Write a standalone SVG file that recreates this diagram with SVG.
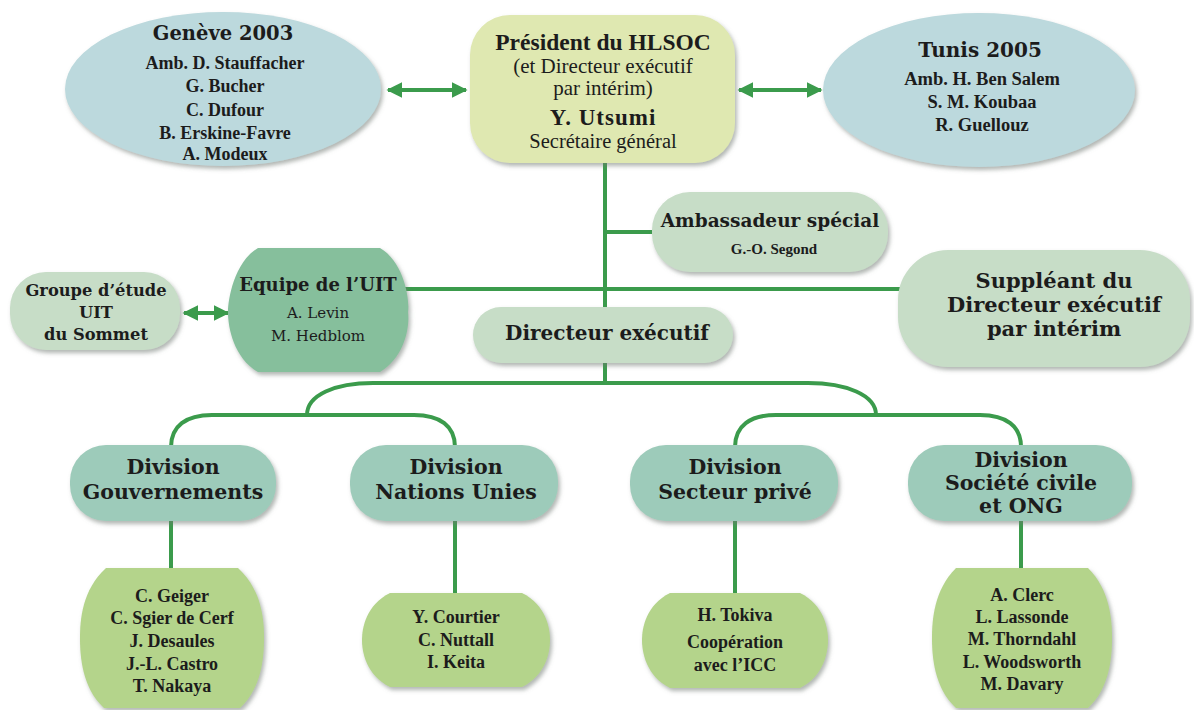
<svg xmlns="http://www.w3.org/2000/svg" width="1194" height="710" viewBox="0 0 1194 710">
  <defs>
    <filter id="shadow" x="-10%" y="-10%" width="125%" height="130%">
      <feDropShadow dx="2" dy="3" stdDeviation="2" flood-color="#6f7a72" flood-opacity="0.55"/>
    </filter>
    <marker id="head" viewBox="0 0 10 10" refX="9" refY="5" markerWidth="4" markerHeight="4" orient="auto-start-reverse" markerUnits="strokeWidth">
      <path d="M0,0 L10,5 L0,10 Z" fill="#3b9b4c"/>
    </marker>
    <style>
      .bg { fill: #ffffff; }
      .link { fill: none; stroke: #3b9b4c; stroke-width: 4; }
      .arrow { fill: none; stroke: #3b9b4c; stroke-width: 4; marker-start: url(#head); marker-end: url(#head); }
      .ell { fill: #bcd9dd; filter: url(#shadow); }
      .pres { fill: #dfe8b1; filter: url(#shadow); }
      .pale { fill: #c7ddc7; filter: url(#shadow); }
      .team { fill: #86bf9c; filter: url(#shadow); }
      .div { fill: #9dcbba; filter: url(#shadow); }
      .names { fill: #b4d48b; filter: url(#shadow); }
      text { fill: #1c1c1c; text-anchor: middle; }
      .slab { font-family: "DejaVu Serif", serif; font-weight: bold; }
      .slabr { font-family: "DejaVu Serif", serif; }
      .serif { font-family: "Liberation Serif", serif; }
      .b { font-weight: bold; }
      .dv { font-size: 20.5px; }
      .nm { font-size: 18px; }
    </style>
  </defs>

  <rect class="bg" x="0" y="0" width="1194" height="710"/>

  <!-- connectors -->
  <g id="connectors">
    <line class="arrow" x1="388" y1="90" x2="466" y2="90"/>
    <line class="arrow" x1="739" y1="90" x2="821" y2="90"/>
    <line class="arrow" x1="184" y1="313" x2="228" y2="313"/>
    <line class="link" x1="605" y1="160" x2="605" y2="309"/>
    <line class="link" x1="605" y1="232" x2="654" y2="232"/>
    <line class="link" x1="398" y1="289" x2="900" y2="289"/>
    <line class="link" x1="605" y1="361" x2="605" y2="383"/>
    <path class="link" d="M307,415 C307,395 335,383 373,383 H808 C846,383 876,395 876,415"/>
    <path class="link" d="M171,447 C171,426 186,415 212,415 H414 C440,415 455,426 455,447"/>
    <path class="link" d="M735,447 C735,426 750,415 776,415 H980 C1006,415 1021,426 1021,447"/>
    <line class="link" x1="171" y1="519" x2="171" y2="570"/>
    <line class="link" x1="455" y1="519" x2="455" y2="595"/>
    <line class="link" x1="735" y1="519" x2="735" y2="595"/>
    <line class="link" x1="1021" y1="519" x2="1021" y2="570"/>
  </g>

  <!-- Genève 2003 -->
  <g id="geneve">
    <ellipse class="ell" cx="223" cy="89" rx="158" ry="77"/>
    <text class="slab" x="223" y="40" font-size="19.5">Genève 2003</text>
    <text class="serif b" x="225" y="69" font-size="18">Amb. D. Stauffacher</text>
    <text class="serif b" x="225" y="92" font-size="18">G. Bucher</text>
    <text class="serif b" x="225" y="116" font-size="18">C. Dufour</text>
    <text class="serif b" x="225" y="139" font-size="18">B. Erskine-Favre</text>
    <text class="serif b" x="225" y="160" font-size="18">A. Modeux</text>
  </g>

  <!-- Président du HLSOC -->
  <g id="president">
    <rect class="pres" x="470" y="15" width="265" height="148" rx="40"/>
    <text class="serif b" x="603" y="50" font-size="23.5">Président du HLSOC</text>
    <text class="serif" x="603" y="73" font-size="21">(et Directeur exécutif</text>
    <text class="serif" x="603" y="95" font-size="21">par intérim)</text>
    <text class="serif b" x="603" y="125" font-size="23" letter-spacing="1">Y. Utsumi</text>
    <text class="serif" x="603" y="148" font-size="20.5">Secrétaire général</text>
  </g>

  <!-- Tunis 2005 -->
  <g id="tunis">
    <ellipse class="ell" cx="979" cy="90" rx="156" ry="77"/>
    <text class="slab" x="980" y="57" font-size="20">Tunis 2005</text>
    <text class="serif b" x="982" y="85" font-size="18.5">Amb. H. Ben Salem</text>
    <text class="serif b" x="982" y="108" font-size="18.5">S. M. Koubaa</text>
    <text class="serif b" x="982" y="131" font-size="18.5">R. Guellouz</text>
  </g>

  <!-- Ambassadeur spécial -->
  <g id="ambassadeur">
    <rect class="pale" x="652" y="192" width="236" height="80" rx="38"/>
    <text class="slab" x="770" y="227" font-size="18.5">Ambassadeur spécial</text>
    <text class="serif b" x="774" y="254" font-size="15">G.-O. Segond</text>
  </g>

  <!-- Groupe d'étude UIT du Sommet -->
  <g id="groupe">
    <rect class="pale" x="10" y="272" width="170" height="78" rx="36"/>
    <text class="slab" x="96" y="296" font-size="16.3">Groupe d’étude</text>
    <text class="slab" x="96" y="318" font-size="16.3">UIT</text>
    <text class="slab" x="96" y="340" font-size="16.3">du Sommet</text>
  </g>

  <!-- Equipe de l'UIT -->
  <g id="equipe">
    <path class="team" d="M258,248 H380 C404,262 410,300 408,312 C410,328 404,358 380,372 H258 C234,358 228,328 228,312 C228,300 234,262 258,248 Z"/>
    <text class="slab" x="318" y="291" font-size="18">Equipe de l’UIT</text>
    <text class="slabr" x="318" y="318" font-size="15">A. Levin</text>
    <text class="slabr" x="318" y="341" font-size="15">M. Hedblom</text>
  </g>

  <!-- Directeur exécutif -->
  <g id="directeur">
    <rect class="pale" x="473" y="307" width="260" height="56" rx="28"/>
    <text class="slab" x="607" y="340" font-size="20">Directeur exécutif</text>
  </g>

  <!-- Suppléant du Directeur exécutif par intérim -->
  <g id="suppleant">
    <rect class="pale" x="898" y="250" width="292" height="117" rx="50"/>
    <text class="slab" x="1054" y="288" font-size="21">Suppléant du</text>
    <text class="slab" x="1054" y="312" font-size="21">Directeur exécutif</text>
    <text class="slab" x="1054" y="336" font-size="21">par intérim</text>
  </g>

  <!-- Divisions -->
  <g id="div-gouvernements">
    <rect class="div" x="70" y="445" width="206" height="76" rx="36"/>
    <text class="slab dv" x="173" y="474">Division</text>
    <text class="slab dv" x="173" y="499">Gouvernements</text>
  </g>
  <g id="div-nations-unies">
    <rect class="div" x="350" y="445" width="208" height="76" rx="36"/>
    <text class="slab dv" x="456" y="474">Division</text>
    <text class="slab dv" x="456" y="499">Nations Unies</text>
  </g>
  <g id="div-secteur-prive">
    <rect class="div" x="630" y="445" width="208" height="76" rx="36"/>
    <text class="slab dv" x="735" y="474">Division</text>
    <text class="slab dv" x="735" y="499">Secteur privé</text>
  </g>
  <g id="div-societe-civile">
    <rect class="div" x="908" y="445" width="224" height="76" rx="36"/>
    <text class="slab dv" x="1021" y="467">Division</text>
    <text class="slab dv" x="1021" y="490">Société civile</text>
    <text class="slab dv" x="1021" y="513">et ONG</text>
  </g>

  <!-- Staff lists -->
  <g id="staff-gouvernements">
    <path class="names" d="M106,568 H238 C262,590 264,620 264,638 C264,656 262,688 240,708 H104 C82,688 80,656 80,638 C80,620 82,590 106,568 Z"/>
    <text class="serif b nm" x="172" y="602">C. Geiger</text>
    <text class="serif b nm" x="172" y="624">C. Sgier de Cerf</text>
    <text class="serif b nm" x="172" y="647">J. Desaules</text>
    <text class="serif b nm" x="172" y="670">J.-L. Castro</text>
    <text class="serif b nm" x="172" y="692">T. Nakaya</text>
  </g>
  <g id="staff-nations-unies">
    <path class="names" d="M390,593 H522 C546,605 550,628 550,640 C550,652 546,675 522,687 H390 C366,675 362,652 362,640 C362,628 366,605 390,593 Z"/>
    <text class="serif b nm" x="456" y="623">Y. Courtier</text>
    <text class="serif b nm" x="456" y="646">C.  Nuttall</text>
    <text class="serif b nm" x="456" y="668">I. Keita</text>
  </g>
  <g id="staff-secteur-prive">
    <path class="names" d="M670,593 H800 C824,605 828,628 828,640 C828,652 824,676 800,688 H670 C646,676 642,652 642,640 C642,628 646,605 670,593 Z"/>
    <text class="serif b nm" x="735" y="621">H. Tokiva</text>
    <text class="serif b nm" x="735" y="648">Coopération</text>
    <text class="serif b nm" x="735" y="671">avec l’ICC</text>
  </g>
  <g id="staff-societe-civile">
    <path class="names" d="M956,568 H1088 C1110,590 1112,620 1112,638 C1112,656 1110,688 1088,708 H956 C934,688 932,656 932,638 C932,620 934,590 956,568 Z"/>
    <text class="serif b nm" x="1022" y="601">A. Clerc</text>
    <text class="serif b nm" x="1022" y="623">L. Lassonde</text>
    <text class="serif b nm" x="1022" y="645">M. Thorndahl</text>
    <text class="serif b nm" x="1022" y="668">L. Woodsworth</text>
    <text class="serif b nm" x="1022" y="690">M. Davary</text>
  </g>
</svg>
